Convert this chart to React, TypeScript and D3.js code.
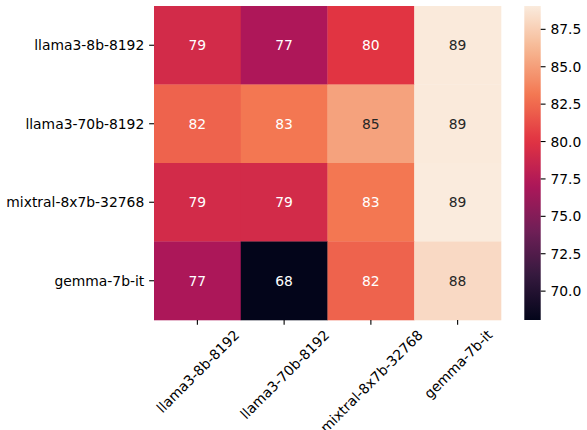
import { useEffect, useRef } from 'react';
import * as d3 from 'd3';

const rowLabels = ['llama3-8b-8192', 'llama3-70b-8192', 'mixtral-8x7b-32768', 'gemma-7b-it'];
const colLabels = ['llama3-8b-8192', 'llama3-70b-8192', 'mixtral-8x7b-32768', 'gemma-7b-it'];

// scores, one row per model
const row0 = [79.2, 77.1, 80.1, 89.0];
const row1 = [82.2, 83.1, 85.2, 89.0];
const row2 = [79.2, 79.2, 83.1, 89.06];
const row3 = [77.0, 68.07, 82.2, 88.1];
const matrix = [row0, row1, row2, row3];

const colorbarTicks = [70.0, 72.5, 75.0, 77.5, 80.0, 82.5, 85.0, 87.5];

// seaborn "rocket" colormap, sampled stops
const rocketStops = ['#03051a', '#35193e', '#701f57', '#ad1759', '#e13342', '#f37651', '#f6b48f', '#faebdd'];

const W = 587;
const H = 430;
const FONT = '"DejaVu Sans", sans-serif';
const FS = 13.89;

export default function App() {
  const svgRef = useRef<SVGSVGElement>(null);

  useEffect(() => {
    if (!svgRef.current) return;
    const svg = d3.select(svgRef.current);
    svg.selectAll('*').remove();

    const left = 154, right = 501, top = 6, bottom = 320;
    const cbX = 524.3, cbW = 16.4;
    const tickLen = 4.86, pad = 4.86;

    const flat = matrix.flat();
    const vmin = d3.min(flat)!;
    const vmax = d3.max(flat)!;

    const interp = d3.piecewise(d3.interpolateRgb, rocketStops);
    const color = d3.scaleSequential(interp).domain([vmin, vmax]);

    const x = d3.scaleBand<string>().domain(colLabels).range([left, right]);
    const y = d3.scaleBand<string>().domain(rowLabels).range([top, bottom]);

    const cells = matrix.flatMap((row, i) => row.map((v, j) => ({ r: rowLabels[i], c: colLabels[j], v })));

    const g = svg.append('g');
    g.selectAll('rect.cell')
      .data(cells)
      .enter()
      .append('rect')
      .attr('class', 'cell')
      .attr('x', d => x(d.c)!)
      .attr('y', d => y(d.r)!)
      .attr('width', x.bandwidth() + 0.3)
      .attr('height', y.bandwidth() + 0.3)
      .attr('fill', d => color(d.v));

    const fmt = d3.format('.0f');
    g.selectAll('text.annot')
      .data(cells)
      .enter()
      .append('text')
      .attr('x', d => x(d.c)! + x.bandwidth() / 2)
      .attr('y', d => y(d.r)! + y.bandwidth() / 2)
      .attr('text-anchor', 'middle')
      .attr('dominant-baseline', 'central')
      .attr('font-family', FONT)
      .attr('font-size', FS)
      .attr('fill', d => {
        const c = d3.rgb(color(d.v));
        const lum = (ch: number) => {
          const s = ch / 255;
          return s <= 0.03928 ? s / 12.92 : Math.pow((s + 0.055) / 1.055, 2.4);
        };
        const L = 0.2126 * lum(c.r) + 0.7152 * lum(c.g) + 0.0722 * lum(c.b);
        return L > 0.408 ? '#262626' : '#ffffff';
      })
      .text(d => fmt(d.v));

    // y axis
    const yAxis = svg.append('g');
    rowLabels.forEach(r => {
      const cy = y(r)! + y.bandwidth() / 2;
      yAxis.append('line')
        .attr('x1', left - tickLen).attr('x2', left)
        .attr('y1', cy).attr('y2', cy)
        .attr('stroke', '#000').attr('stroke-width', 1.1);
      yAxis.append('text')
        .attr('x', left - tickLen - pad)
        .attr('y', cy)
        .attr('text-anchor', 'end')
        .attr('dominant-baseline', 'central')
        .attr('font-family', FONT)
        .attr('font-size', FS)
        .text(r);
    });

    // x axis, labels rotated 45deg with centred bounding box like matplotlib
    const xAxis = svg.append('g');
    const labelTop = bottom + tickLen + pad;
    colLabels.forEach(c => {
      const cx = x(c)! + x.bandwidth() / 2;
      xAxis.append('line')
        .attr('x1', cx).attr('x2', cx)
        .attr('y1', bottom).attr('y2', bottom + tickLen)
        .attr('stroke', '#000').attr('stroke-width', 1.1);
      const t = xAxis.append('text')
        .attr('text-anchor', 'middle')
        .attr('dominant-baseline', 'central')
        .attr('font-family', FONT)
        .attr('font-size', FS)
        .text(c);
      const w = (t.node() as SVGTextElement).getComputedTextLength();
      const h = FS * 1.16;
      const bh = (w + h) * Math.SQRT1_2;
      const cyy = labelTop + bh / 2 - 3;
      t.attr('transform', `translate(${cx + 0.5},${cyy}) rotate(-45)`);
    });

    // colorbar
    const defs = svg.append('defs');
    const grad = defs.append('linearGradient')
      .attr('id', 'cbgrad')
      .attr('x1', 0).attr('x2', 0).attr('y1', 1).attr('y2', 0);
    d3.range(0, 1.0001, 0.02).forEach(t => {
      grad.append('stop').attr('offset', t).attr('stop-color', interp(t));
    });
    svg.append('rect')
      .attr('x', cbX).attr('y', top)
      .attr('width', cbW).attr('height', bottom - top)
      .attr('fill', 'url(#cbgrad)');

    const cbScale = d3.scaleLinear().domain([vmin, vmax]).range([bottom, top]);
    const cbAxis = svg.append('g');
    const f1 = d3.format('.1f');
    colorbarTicks.forEach(v => {
      const ty = cbScale(v);
      cbAxis.append('line')
        .attr('x1', cbX + cbW).attr('x2', cbX + cbW + tickLen)
        .attr('y1', ty).attr('y2', ty)
        .attr('stroke', '#000').attr('stroke-width', 1.1);
      cbAxis.append('text')
        .attr('x', cbX + cbW + tickLen + pad)
        .attr('y', ty)
        .attr('dominant-baseline', 'central')
        .attr('font-family', FONT)
        .attr('font-size', FS)
        .text(f1(v));
    });
  }, []);

  return (
    <div style={{ position: 'absolute', left: 0, top: 0, width: W, height: H, background: '#fff' }}>
      <svg ref={svgRef} width={W} height={H} />
    </div>
  );
}
